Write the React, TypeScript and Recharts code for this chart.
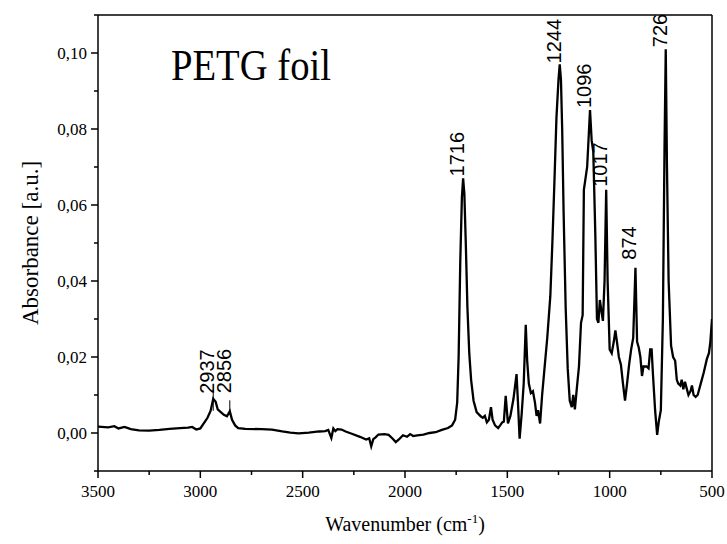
import React from 'react';
import {
  ComposedChart,
  Line,
  XAxis,
  YAxis,
  ReferenceLine,
  ReferenceDot,
  Customized,
} from 'recharts';

// ---------- data ----------
const wavenumbers = [
  3500, 3450, 3420, 3400, 3370, 3340, 3300, 3250, 3200, 3150, 3100, 3060, 3040, 3020, 3000,
  2980, 2965, 2950, 2937, 2925, 2915, 2900, 2885, 2870, 2856, 2845, 2830, 2815, 2780, 2700,
  2650, 2600, 2560, 2520, 2470, 2420, 2390, 2375, 2360, 2350, 2340, 2330, 2310, 2290, 2260,
  2220, 2190, 2175, 2165, 2155, 2145, 2130, 2100, 2080, 2060, 2045, 2030, 2010, 1990, 1975,
  1960, 1940, 1910, 1880, 1850, 1820, 1790, 1770, 1755, 1745, 1738, 1730, 1722, 1716, 1710,
  1703, 1695, 1686, 1677, 1665, 1650, 1630, 1620, 1610, 1600, 1590, 1580, 1572, 1560, 1545,
  1535, 1525, 1517, 1508, 1497, 1485, 1470, 1455, 1448, 1440, 1430, 1420, 1410, 1403, 1395,
  1385, 1375, 1365, 1357, 1350, 1340, 1330, 1320, 1305, 1290, 1280, 1270, 1260, 1250, 1244,
  1238, 1232, 1225, 1215, 1205, 1195, 1185, 1178, 1170, 1160, 1150, 1140, 1132, 1126, 1118,
  1110, 1096, 1088, 1080, 1070, 1062, 1055, 1048, 1040, 1033, 1025, 1017, 1010, 1000, 990,
  980, 972, 962, 955, 945, 935, 925, 915, 905, 895, 885, 874, 866, 858, 850,
  842, 835, 820, 810, 802, 795, 788, 778, 768, 760, 750, 740, 732, 726, 720,
  712, 700, 690, 680, 672, 665, 655, 648, 640, 632, 625, 615, 605, 598, 590,
  580, 570, 555, 540, 525, 515, 508, 500,
];

const absorbance = [
  0.0017, 0.0015, 0.0018, 0.0012, 0.0016, 0.001, 0.0007, 0.0006, 0.0008, 0.0011, 0.0013, 0.0014, 0.0016, 0.0009, 0.0012,
  0.0028, 0.004, 0.0058, 0.009, 0.0082, 0.0062, 0.0055, 0.0048, 0.0044, 0.0057, 0.0035, 0.002, 0.0013, 0.0011, 0.001,
  0.0009, 0.0004, 0.0001, -0.0001, 0.0001, 0.0004, 0.0005, 0.0008, -0.0013, 0.0012, 0.0005, 0.001, 0.0009, 0.0004, -0.0002,
  -0.001, -0.0017, -0.0014, -0.0035, -0.0016, -0.0012, -0.0004, -0.0003, -0.0005, -0.0015, -0.0024, -0.0017, -0.0006, -0.001, -0.0003,
  -0.0008, -0.0006, -0.0004, 0.0, 0.0002, 0.0008, 0.0013, 0.002, 0.0035, 0.008, 0.02, 0.045, 0.062, 0.067, 0.063,
  0.05, 0.033, 0.021, 0.014, 0.0085, 0.0055, 0.0044, 0.004, 0.0045, 0.0028, 0.0035, 0.0068, 0.0035, 0.002, 0.0013,
  0.002, 0.0028, 0.003, 0.0098, 0.0025, 0.0045, 0.009, 0.0155, 0.008, -0.0015, 0.005, 0.013, 0.0285, 0.019, 0.013,
  0.0105, 0.011, 0.008, 0.0045, 0.006, 0.0025, 0.01, 0.016, 0.025, 0.036, 0.05, 0.066, 0.083, 0.093, 0.097,
  0.093, 0.08, 0.058, 0.033, 0.017, 0.0085, 0.0068, 0.01, 0.0062, 0.012, 0.0175, 0.029, 0.031, 0.064, 0.067,
  0.07, 0.085, 0.077, 0.074, 0.052, 0.03, 0.029, 0.035, 0.032, 0.0295, 0.04, 0.064, 0.04, 0.022, 0.021,
  0.024, 0.027, 0.023, 0.02, 0.018, 0.013, 0.0085, 0.013, 0.018, 0.022, 0.025, 0.0435, 0.024, 0.0225, 0.02,
  0.015, 0.0175, 0.0175, 0.017, 0.022, 0.022, 0.015, 0.006, -0.0005, 0.003, 0.006, 0.03, 0.075, 0.101, 0.07,
  0.04, 0.023, 0.02, 0.019, 0.014, 0.013, 0.0125, 0.014, 0.0115, 0.0135, 0.012, 0.01, 0.011, 0.0125, 0.01,
  0.0095, 0.01, 0.013, 0.016, 0.0195, 0.021, 0.024, 0.03,
];

const peakWavenumbers = [2937, 2856, 1716, 1244, 1096, 1017, 874, 726];
const peakLabels = ['2937', '2856', '1716', '1244', '1096', '1017', '874', '726'];

const xTicks = [3500, 3250, 3000, 2750, 2500, 2250, 2000, 1750, 1500, 1250, 1000, 750, 500];
const yTicks = [-0.01, 0, 0.01, 0.02, 0.03, 0.04, 0.05, 0.06, 0.07, 0.08, 0.09, 0.1, 0.11];

const chartTitle = 'PETG foil';
const xTitle = 'Wavenumber (cm';
const xTitleSup = '-1';
const yTitle = 'Absorbance [a.u.]';

// ---------- presentation ----------
const SERIF = "'Liberation Serif', 'Times New Roman', serif";
const SANS = "'Liberation Sans', Arial, sans-serif";

const labelGap: Record<string, number> = {
  '2937': 5, '2856': 18, '1716': 2, '1244': 1, '1096': 2, '1017': 3, '874': 8, '726': 2,
};
const leader: Record<string, [number, number]> = {
  '2937': [-9, 12],
  '2856': [-11, 2],
};

const data = wavenumbers.map((w, i) => ({ w, a: absorbance[i] }));

const YTick = (props: any) => {
  const { x, y, payload } = props;
  const v = payload.value as number;
  const k = Math.round(v * 100);
  const major = k % 2 === 0;
  const show = major && k >= 0 && k <= 10;
  return (
    <g>
      <line x1={x} y1={y} x2={x - (major ? 7 : 4)} y2={y} stroke="#000" strokeWidth={1.5} />
      {show && (
        <text x={x - 11} y={y + 6} textAnchor="end" fontFamily={SERIF} fontSize={17} fill="#000">
          {v.toFixed(2).replace('.', ',')}
        </text>
      )}
    </g>
  );
};

const XTick = (props: any) => {
  const { x, y, payload } = props;
  const v = payload.value as number;
  const major = v % 500 === 0;
  return (
    <g>
      <line x1={x} y1={y} x2={x} y2={y + (major ? 7 : 4)} stroke="#000" strokeWidth={1.5} />
      {major && (
        <text x={x} y={y + 26} textAnchor="middle" fontFamily={SERIF} fontSize={17} fill="#000">
          {String(v)}
        </text>
      )}
    </g>
  );
};

const makePeakShape = (label: string) => (p: any) => {
  const { cx, cy } = p;
  if (cx == null || cy == null) return <g />;
  const gap = labelGap[label] ?? 2;
  const bx = cx + 1;
  const by = cy - gap;
  const ld = leader[label];
  return (
    <g>
      {ld && <line x1={cx} x2={cx} y1={cy + ld[0]} y2={cy + ld[1]} stroke="#000" strokeWidth={1} />}
      <text
        x={bx}
        y={by}
        transform={`rotate(-90 ${bx} ${by})`}
        textAnchor="start"
        fontFamily={SANS}
        fontSize={20}
        fill="#000"
      >
        {label}
      </text>
    </g>
  );
};

const Titles = () => (
  <g>
    <text x={171} y={80} fontFamily={SERIF} fontSize={44} fill="#000" textLength={160} lengthAdjust="spacingAndGlyphs">
      {chartTitle}
    </text>
    <text x={405} y={531} textAnchor="middle" fontFamily={SERIF} fontSize={20} fill="#000">
      {xTitle}
      <tspan fontSize={13} dy={-8}>{xTitleSup}</tspan>
      <tspan dy={8}>)</tspan>
    </text>
    <text
      x={38}
      y={243}
      transform="rotate(-90 38 243)"
      textAnchor="middle"
      fontFamily={SERIF}
      fontSize={23}
      fill="#000"
    >
      {yTitle}
    </text>
  </g>
);

export default function App() {
  return (
    <div style={{ width: 727, height: 544, background: '#fff' }}>
      <style>{'body{margin:0;background:#fff}'}</style>
      <ComposedChart
        width={727}
        height={544}
        data={data}
        margin={{ top: 15, right: 15, bottom: 43, left: 38 }}
      >
        <XAxis
          dataKey="w"
          type="number"
          domain={[500, 3500]}
          reversed
          ticks={xTicks}
          interval={0}
          height={30}
          tickSize={0}
          tickMargin={0}
          tickLine={false}
          axisLine={{ stroke: '#000', strokeWidth: 1.5 }}
          tick={XTick}
          allowDataOverflow
        />
        <YAxis
          type="number"
          domain={[-0.01, 0.11]}
          ticks={yTicks}
          interval={0}
          width={60}
          tickSize={0}
          tickMargin={0}
          tickLine={false}
          axisLine={{ stroke: '#000', strokeWidth: 1.5 }}
          tick={YTick}
          allowDataOverflow
        />
        <ReferenceLine y={0.11} stroke="#000" strokeWidth={1.5} ifOverflow="visible" />
        <ReferenceLine x={500} stroke="#000" strokeWidth={1.5} ifOverflow="visible" />
        <Line
          dataKey="a"
          type="linear"
          stroke="#000"
          strokeWidth={2.3}
          dot={false}
          activeDot={false}
          isAnimationActive={false}
        />
        {peakWavenumbers.map((w, i) => (
          <ReferenceDot
            key={peakLabels[i]}
            x={w}
            y={absorbance[wavenumbers.indexOf(w)]}
            r={0}
            ifOverflow="visible"
            shape={makePeakShape(peakLabels[i])}
          />
        ))}
        <Customized component={Titles} />
      </ComposedChart>
    </div>
  );
}
